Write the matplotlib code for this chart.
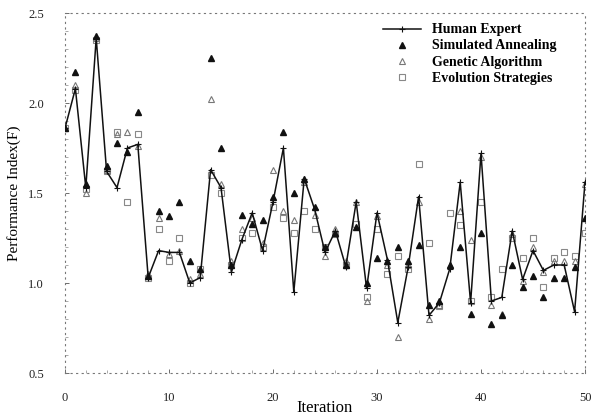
import matplotlib
matplotlib.use("Agg")
import matplotlib.pyplot as plt
import numpy as np

iterations = list(range(51))

human_expert = [1.86, 2.08, 1.53, 2.36, 1.62, 1.53, 1.75, 1.77, 1.03, 1.18,
                1.17, 1.17, 1.00, 1.03, 1.63, 1.53, 1.06, 1.24, 1.39, 1.18,
                1.45, 1.75, 0.95, 1.58, 1.41, 1.17, 1.29, 1.09, 1.45, 0.97,
                1.39, 1.13, 0.78, 1.09, 1.48, 0.82, 0.89, 1.08, 1.56, 0.89,
                1.72, 0.90, 0.92, 1.29, 1.02, 1.18, 1.07, 1.10, 1.10, 0.84,
                1.56]

simulated_annealing = [1.86, 2.17, 1.55, 2.37, 1.65, 1.78, 1.73, 1.95, 1.04, 1.40,
                       1.37, 1.45, 1.12, 1.08, 2.25, 1.75, 1.10, 1.38, 1.33, 1.35,
                       1.48, 1.84, 1.50, 1.58, 1.42, 1.20, 1.28, 1.10, 1.31, 1.00,
                       1.14, 1.12, 1.20, 1.12, 1.21, 0.88, 0.90, 1.10, 1.20, 0.83,
                       1.28, 0.77, 0.82, 1.10, 0.98, 1.04, 0.92, 1.03, 1.03, 1.09,
                       1.36]

genetic_algorithm = [1.86, 2.10, 1.50, 2.36, 1.63, 1.83, 1.84, 1.76, 1.05, 1.36,
                     1.16, 1.18, 1.02, 1.05, 2.02, 1.55, 1.12, 1.30, 1.36, 1.22,
                     1.63, 1.40, 1.35, 1.56, 1.38, 1.15, 1.30, 1.12, 1.45, 0.90,
                     1.37, 1.10, 0.70, 1.10, 1.45, 0.80, 0.88, 1.10, 1.40, 1.24,
                     1.70, 0.88, 0.83, 1.27, 1.01, 1.20, 1.06, 1.12, 1.12, 1.12,
                     1.55]

evolution_strategies = [1.86, 2.07, 1.52, 2.35, 1.62, 1.84, 1.45, 1.83, 1.03, 1.30,
                        1.12, 1.25, 1.00, 1.08, 1.60, 1.50, 1.10, 1.25, 1.28, 1.20,
                        1.42, 1.36, 1.28, 1.40, 1.30, 1.20, 1.27, 1.10, 1.33, 0.92,
                        1.30, 1.05, 1.15, 1.08, 1.66, 1.22, 0.87, 1.39, 1.32, 0.90,
                        1.45, 0.92, 1.08, 1.25, 1.14, 1.25, 0.98, 1.14, 1.17, 1.15,
                        1.28]

x_ticks = [0, 10, 20, 30, 40, 50]
y_ticks = [0.5, 1.0, 1.5, 2.0, 2.5]

plt.rcParams['font.family'] = ['Liberation Serif', 'DejaVu Serif']

fig = plt.figure(figsize=(5.94, 4.17), dpi=100)
ax = fig.add_axes([65/594, 1-373/417, 520/594, 360/417])

ax.plot(iterations, evolution_strategies, linestyle='none', marker='s',
        markersize=5, markerfacecolor='none', markeredgecolor='#888888',
        markeredgewidth=0.8, label='Evolution Strategies', zorder=2)
ax.plot(iterations, genetic_algorithm, linestyle='none', marker='^',
        markersize=5, markerfacecolor='none', markeredgecolor='#777777',
        markeredgewidth=0.8, label='Genetic Algorithm', zorder=2)
ax.plot(iterations, simulated_annealing, linestyle='none', marker='^',
        markersize=4, markerfacecolor='#111111', markeredgecolor='#111111',
        label='Simulated Annealing', zorder=3)
ax.plot(iterations, human_expert, color='#111111', linewidth=1.1, marker='+',
        markersize=4, markeredgewidth=0.8, label='Human Expert', zorder=4)

ax.set_xlim(0, 50)
ax.set_ylim(0.5, 2.5)
ax.set_xticks(x_ticks)
ax.set_yticks(y_ticks)
ax.set_xticklabels([str(t) for t in x_ticks])
ax.set_yticklabels([f"{t:.1f}" for t in y_ticks])
ax.tick_params(direction='in', length=3, width=0.6, colors='#555555',
               labelcolor='#222222', labelsize=9)
ax.tick_params(axis='x', pad=14)
ax.tick_params(axis='y', pad=15)
ax.set_xticks(np.arange(0, 51, 2), minor=True)
ax.set_yticks(np.arange(0.5, 2.51, 0.1), minor=True)
ax.tick_params(which='minor', direction='in', length=2, width=0.5, colors='#888888')

for s in ax.spines.values():
    s.set_linestyle((0, (1, 4)))
    s.set_color('#777777')
    s.set_linewidth(0.8)

ax.set_xlabel('Iteration', fontsize=12)
ax.xaxis.set_label_coords(0.5, -(408 - 373) / 360, transform=ax.transAxes)
ax.xaxis.label.set_va('center')
ax.set_ylabel('Performance Index(F)', fontsize=11)
ax.yaxis.set_label_coords(-(65 - 14) / 520, 0.5, transform=ax.transAxes)
ax.yaxis.label.set_va('center')

handles, labels = ax.get_legend_handles_labels()
order = [3, 2, 1, 0]
leg = ax.legend([handles[i] for i in order], [labels[i] for i in order],
                loc='upper left', bbox_to_anchor=((383 - 65) / 520, 0.971),
                frameon=False, borderpad=0, borderaxespad=0,
                handlelength=2.7, handletextpad=0.85, labelspacing=0.22,
                prop={'family': ['Liberation Serif'], 'weight': 'bold', 'size': 10})

fig.savefig('out.png', dpi=100)
